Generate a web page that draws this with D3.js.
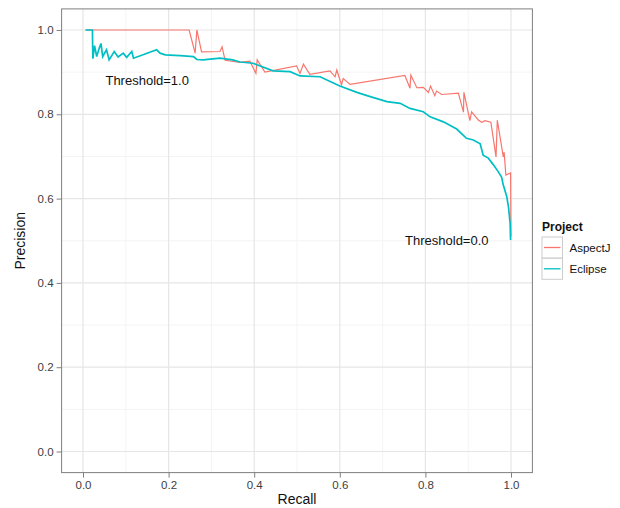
<!DOCTYPE html>
<html>
<head>
<meta charset="utf-8">
<script src="https://cdn.jsdelivr.net/npm/d3@7"></script>
<style>
  body { margin: 0; background: #fff; }
  svg { font-family: "Liberation Sans", Arial, sans-serif; }
</style>
</head>
<body>
<script>
// Precision / recall points
const aspectjRecall = [0.006, 0.248, 0.262, 0.266, 0.277, 0.320, 0.325, 0.332, 0.367, 0.390, 0.404, 0.407, 0.425,
  0.499, 0.507, 0.515, 0.530, 0.577, 0.589, 0.593, 0.604, 0.608, 0.624, 0.752, 0.764, 0.766, 0.780, 0.795,
  0.807, 0.812, 0.822, 0.826, 0.838, 0.877, 0.889, 0.890, 0.904, 0.908, 0.924, 0.932, 0.939, 0.953, 0.965,
  0.968, 0.982, 0.984, 0.988, 0.999, 1.000];
const aspectjPrecision = [1.000, 1.000, 0.945, 1.000, 0.948, 0.949, 0.960, 0.928, 0.923, 0.926, 0.897, 0.929, 0.900,
  0.915, 0.897, 0.919, 0.895, 0.903, 0.889, 0.905, 0.870, 0.885, 0.871, 0.892, 0.862, 0.893, 0.863, 0.864,
  0.852, 0.867, 0.844, 0.855, 0.847, 0.850, 0.805, 0.852, 0.785, 0.806, 0.786, 0.781, 0.785, 0.781, 0.699,
  0.786, 0.699, 0.710, 0.656, 0.661, 0.510];

const eclipseRecall = [0.006, 0.022, 0.023, 0.027, 0.032, 0.038, 0.042, 0.046, 0.055, 0.061, 0.073, 0.082, 0.094,
  0.102, 0.114, 0.118, 0.145, 0.172, 0.180, 0.192, 0.227, 0.258, 0.266, 0.281, 0.320, 0.350, 0.367, 0.397,
  0.444, 0.484, 0.507, 0.554, 0.585, 0.600, 0.640, 0.671, 0.710, 0.741, 0.764, 0.795, 0.811, 0.842, 0.873,
  0.896, 0.912, 0.928, 0.935, 0.947, 0.959, 0.970, 0.978, 0.982, 0.990, 0.994, 0.998, 0.999];
const eclipsePrecision = [1.000, 1.000, 0.932, 0.963, 0.937, 0.957, 0.968, 0.937, 0.953, 0.929, 0.949, 0.936, 0.945,
  0.935, 0.949, 0.933, 0.943, 0.953, 0.945, 0.941, 0.939, 0.937, 0.930, 0.929, 0.933, 0.929, 0.924, 0.921,
  0.903, 0.901, 0.891, 0.889, 0.874, 0.867, 0.852, 0.842, 0.830, 0.826, 0.814, 0.806, 0.794, 0.782, 0.765,
  0.743, 0.739, 0.730, 0.703, 0.696, 0.680, 0.664, 0.651, 0.632, 0.605, 0.581, 0.541, 0.502];

const projects = ['AspectJ', 'Eclipse'];
const projectColors = ['#F8766D', '#00BFC4'];
const majorTicks = [0, 0.2, 0.4, 0.6, 0.8, 1.0];
const minorTicks = [0.1, 0.3, 0.5, 0.7, 0.9];
const annotations = [
  { label: 'Threshold=1.0', r: 0.15, p: 0.88 },
  { label: 'Threshold=0.0', r: 0.85, p: 0.50 }
];

const W = 620, H = 508;
const panel = { left: 61.6, right: 532.4, top: 8.9, bottom: 472.6 };

const svg = d3.select('body').append('svg')
  .attr('width', W)
  .attr('height', H);

const x = d3.scaleLinear().domain([-0.05, 1.05]).range([panel.left, panel.right]);
const y = d3.scaleLinear().domain([-0.05, 1.05]).range([panel.bottom, panel.top]);

// panel background + grid
svg.append('rect')
  .attr('x', panel.left).attr('y', panel.top)
  .attr('width', panel.right - panel.left).attr('height', panel.bottom - panel.top)
  .attr('fill', '#fff');

const grid = svg.append('g');
grid.selectAll('.minx').data(minorTicks).enter().append('line')
  .attr('x1', d => x(d)).attr('x2', d => x(d))
  .attr('y1', panel.top).attr('y2', panel.bottom)
  .attr('stroke', '#f4f4f4').attr('stroke-width', 1);
grid.selectAll('.miny').data(minorTicks).enter().append('line')
  .attr('y1', d => y(d)).attr('y2', d => y(d))
  .attr('x1', panel.left).attr('x2', panel.right)
  .attr('stroke', '#f4f4f4').attr('stroke-width', 1);
grid.selectAll('.majx').data(majorTicks).enter().append('line')
  .attr('x1', d => x(d)).attr('x2', d => x(d))
  .attr('y1', panel.top).attr('y2', panel.bottom)
  .attr('stroke', '#e6e6e6').attr('stroke-width', 1.2);
grid.selectAll('.majy').data(majorTicks).enter().append('line')
  .attr('y1', d => y(d)).attr('y2', d => y(d))
  .attr('x1', panel.left).attr('x2', panel.right)
  .attr('stroke', '#e6e6e6').attr('stroke-width', 1.2);

// lines
const line = d3.line().x(d => x(d[0])).y(d => y(d[1]));
const series = [
  d3.zip(aspectjRecall, aspectjPrecision),
  d3.zip(eclipseRecall, eclipsePrecision)
];
svg.append('path').datum(series[0])
  .attr('d', line).attr('fill', 'none')
  .attr('stroke', projectColors[0]).attr('stroke-width', 1.2);
svg.append('path').datum(series[1])
  .attr('d', line).attr('fill', 'none')
  .attr('stroke', projectColors[1]).attr('stroke-width', 1.7);

// annotations
svg.selectAll('.ann').data(annotations).enter().append('text')
  .attr('x', d => x(d.r)).attr('y', d => y(d.p))
  .attr('dy', '0.35em')
  .attr('text-anchor', 'middle')
  .attr('font-size', 13)
  .attr('fill', '#111')
  .text(d => d.label);

// panel border
svg.append('rect')
  .attr('x', panel.left).attr('y', panel.top)
  .attr('width', panel.right - panel.left).attr('height', panel.bottom - panel.top)
  .attr('fill', 'none').attr('stroke', '#7f7f7f').attr('stroke-width', 1);

// axes
const xAxis = d3.axisBottom(x).tickValues(majorTicks).tickFormat(d3.format('.1f')).tickSize(5).tickPadding(3);
const yAxis = d3.axisLeft(y).tickValues(majorTicks).tickFormat(d3.format('.1f')).tickSize(5).tickPadding(3);

const gx = svg.append('g').attr('transform', `translate(0,${panel.bottom})`).call(xAxis);
const gy = svg.append('g').attr('transform', `translate(${panel.left},0)`).call(yAxis);
[gx, gy].forEach(g => {
  g.select('.domain').remove();
  g.selectAll('.tick line').attr('stroke', '#7f7f7f');
  g.selectAll('.tick text').attr('fill', '#404040').attr('font-size', 11.5)
    .attr('font-family', '"Liberation Sans", Arial, sans-serif');
});

svg.append('text')
  .attr('x', (panel.left + panel.right) / 2).attr('y', 504)
  .attr('text-anchor', 'middle').attr('font-size', 14).attr('fill', '#111')
  .text('Recall');

svg.append('text')
  .attr('transform', `translate(25,${(panel.top + panel.bottom) / 2}) rotate(-90)`)
  .attr('text-anchor', 'middle').attr('font-size', 14).attr('fill', '#111')
  .text('Precision');

// legend
const legend = svg.append('g').attr('transform', 'translate(542,0)');
legend.append('text')
  .attr('x', 0).attr('y', 231)
  .attr('font-size', 12).attr('font-weight', 'bold').attr('fill', '#111')
  .text('Project');

const keys = legend.selectAll('.key').data(projects).enter().append('g')
  .attr('transform', (_, i) => `translate(0,${237 + i * 21.3})`);
keys.append('rect')
  .attr('width', 20.5).attr('height', 21)
  .attr('fill', '#fff').attr('stroke', '#cccccc').attr('stroke-width', 1);
keys.append('line')
  .attr('x1', 2).attr('x2', 18.5).attr('y1', 10.5).attr('y2', 10.5)
  .attr('stroke', (_, i) => projectColors[i]).attr('stroke-width', 1.3);
keys.append('text')
  .attr('x', 27.5).attr('y', 10.5).attr('dy', '0.35em')
  .attr('font-size', 11.5).attr('fill', '#111')
  .text(d => d);
</script>
</body>
</html>
